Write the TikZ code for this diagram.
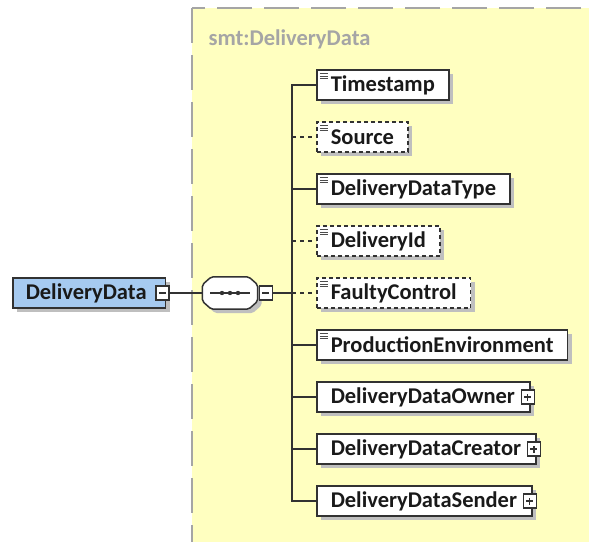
\documentclass[tikz,border=0pt]{standalone}
\usepackage{fontspec}
\setmainfont{Carlito}
\usetikzlibrary{shadows,positioning}
\definecolor{typebg}{RGB}{255,255,192}
\definecolor{typeline}{RGB}{165,165,165}
\definecolor{rootblue}{RGB}{166,202,240}
\definecolor{boxline}{RGB}{50,50,50}
\newcommand{\elemfont}{\bfseries\fontsize{22.5}{26}\selectfont}
\newcommand{\togglegap}[1]{\kern#1}
\tikzset{
  shade box/.style={drop shadow={shadow xshift=4pt,shadow yshift=-4pt,fill=black!25,opacity=1}},
  elem/.style={draw=boxline,line width=1.5pt,fill=white,font=\elemfont,text=black!90,
    minimum height=30pt,inner xsep=14pt,inner ysep=0pt,anchor=west,shade box},
  optional/.style={dash pattern=on 4pt off 3pt},
  simple/.style={path picture={
    \foreach \d in {3.5,6,8.5}
      \draw[solid,line width=0.9pt,black!70] ([xshift=3pt,yshift=-\d pt]path picture bounding box.north west) -- ++(8pt,0);}},
  toggle/.style={draw=boxline,solid,line width=1.3pt,fill=white,minimum width=13pt,minimum height=14pt,inner sep=0pt},
  minus/.style={toggle,path picture={
    \draw[line width=1.2pt] ([xshift=-3.5pt]path picture bounding box.center) -- ([xshift=3.5pt]path picture bounding box.center);}},
  plus/.style={toggle,path picture={
    \draw[line width=1.2pt] ([xshift=-3.5pt]path picture bounding box.center) -- ([xshift=3.5pt]path picture bounding box.center)
      ([yshift=-3.5pt]path picture bounding box.center) -- ([yshift=3.5pt]path picture bounding box.center);}},
  conn/.style={draw=boxline,line width=1.5pt},
}
\begin{document}
\begin{tikzpicture}[x=1pt,y=-1pt]
	\useasboundingbox (0,0) rectangle (589,541);
	% complex type area
	\draw[fill=typebg,draw=typeline,line width=2.5pt,dash pattern=on 35pt off 12pt] (192,8) rectangle (610,560);
	\node[anchor=base west,font=\elemfont,text=typeline] (tname) at (205,45) {smt:DeliveryData};
	% root element and sequence
	\node[elem,fill=rootblue,inner xsep=13pt] (root) at (12,293) {DeliveryData\togglegap{6pt}};
	\node[minus] (rootm) at ([xshift=-4pt]root.east) {};
	\node[minimum width=55pt,minimum height=32pt,inner sep=0pt] (seq) at (230,293) {};
	\draw[conn,fill=white,rounded corners=2pt,shade box]
	  ([xshift=9pt]seq.north west) -- ([xshift=-9pt]seq.north east) -- ([yshift=-8pt]seq.north east)
	  -- ([yshift=8pt]seq.south east) -- ([xshift=-9pt]seq.south east) -- ([xshift=9pt]seq.south west)
	  -- ([yshift=8pt]seq.south west) -- ([yshift=-8pt]seq.north west) -- cycle;
	\draw[line width=1.2pt,boxline] ([xshift=8pt]seq.west) -- ([xshift=-8pt]seq.east);
	\foreach \d in {-8,0,8}
	  \fill[boxline] ([xshift=\d pt]seq.center) circle (2.2pt);
	\node[minus,right=1pt of seq] (seqm) {};
	% children
	\node[elem,simple] (ts) at (316,85) {Timestamp};
	\node[elem,simple,optional] (src) at (316,137) {Source};
	\node[elem,simple] (typ) at (316,189) {DeliveryDataType};
	\node[elem,simple,optional] (did) at (316,241) {DeliveryId};
	\node[elem,simple,optional] (fc) at (316,293) {FaultyControl};
	\node[elem,simple] (prod) at (316,345) {ProductionEnvironment};
	\node[elem] (own) at (316,397) {DeliveryDataOwner\togglegap{1pt}};
	\node[plus] (ownp) at ([xshift=-3pt]own.east) {};
	\node[elem] (cre) at (316,449) {DeliveryDataCreator\togglegap{1pt}};
	\node[plus] (crep) at ([xshift=-3pt]cre.east) {};
	\node[elem] (snd) at (316,501) {DeliveryDataSender\togglegap{1pt}};
	\node[plus] (sndp) at ([xshift=-3pt]snd.east) {};
	% connectors
	\coordinate (bus) at (292,293);
	\draw[conn] (rootm) -- (seq.west);
	\draw[conn] (seqm) -- (bus);
	\draw[conn] (ts.west) -- (ts.west -| bus) -- (snd.west -| bus) -- (snd.west);
	\foreach \n in {typ,prod,own,cre}
	  \draw[conn] (bus |- \n.west) -- (\n.west);
	\foreach \n in {src,did,fc}
	  \draw[conn,dash pattern=on 4pt off 4pt] (bus |- \n.west) -- (\n.west);
\end{tikzpicture}
\end{document}
